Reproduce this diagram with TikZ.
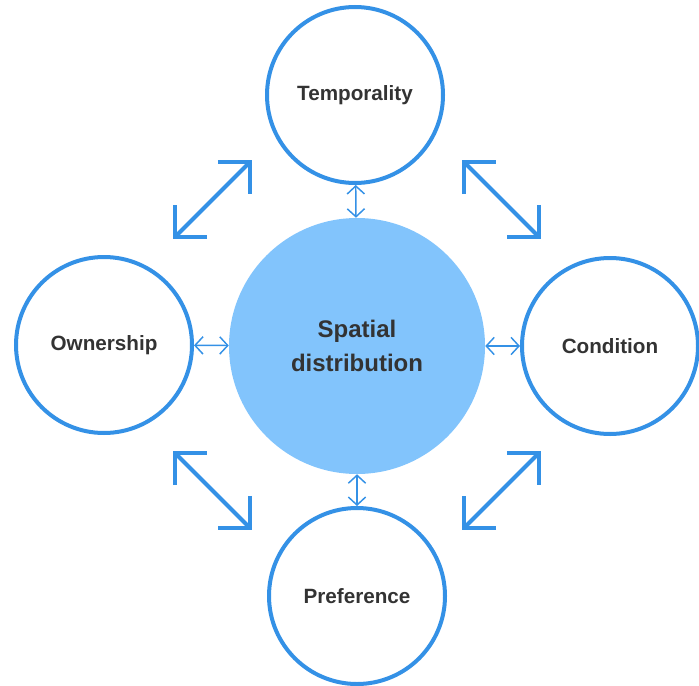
\documentclass[tikz,border=0pt]{standalone}
\usepackage{fontspec}
\setmainfont{Liberation Sans}
\usetikzlibrary{arrows.meta}

\definecolor{ringblue}{HTML}{3491E6}
\definecolor{coreblue}{HTML}{82C4FC}
\definecolor{labelgray}{HTML}{333333}

\begin{document}
\begin{tikzpicture}[x=0.75pt,y=-0.75pt,
    ring/.style={circle, draw=ringblue, line width=3pt, fill=white,
        minimum size=132pt, inner sep=0pt, font=\bfseries\fontsize{15.5}{18}\selectfont,
        text=labelgray},
    core/.style={circle, fill=coreblue, minimum size=192pt, inner sep=0pt,
        align=center, font=\bfseries\fontsize{18}{25}\selectfont, text=labelgray},
    link/.style={draw=ringblue, line width=1.1pt,
        {Straight Barb[length=6pt,width=13pt]}-{Straight Barb[length=6pt,width=13pt]}},
    bigarrow/.style={draw=ringblue, line width=3pt, line cap=round, line join=round,
        {Straight Barb[length=17pt,width=34pt]}-{Straight Barb[length=17pt,width=34pt]}}]
        \useasboundingbox (0,0) rectangle (699,685);

        % Centre node
        \node[core] (spatial) at (357,346) {Spatial\\distribution};

        % Outer nodes
        \node[ring] (temp) at (355,95) {Temporality};
        \node[ring] (own) at (104,345) {Ownership};
        \node[ring] (cond) at (610,346) {Condition};
        \node[ring] (pref) at (357,596) {Preference};

        % Short links to the centre
        \draw[link] (temp) -- (spatial);
        \draw[link] (own) -- (spatial);
        \draw[link] (spatial) -- (cond);
        \draw[link] (spatial) -- (pref);

        % Diagonal arrows
        \coordinate (tl1) at (173,239);
        \coordinate (tl2) at (252,160);
        \coordinate (tr1) at (462,160);
        \coordinate (tr2) at (541,239);
        \coordinate (bl1) at (173,451);
        \coordinate (bl2) at (252,530);
        \coordinate (br1) at (462,530);
        \coordinate (br2) at (541,451);
        \draw[bigarrow] (tl1) -- (tl2);
        \draw[bigarrow] (tr1) -- (tr2);
        \draw[bigarrow] (bl1) -- (bl2);
        \draw[bigarrow] (br1) -- (br2);
\end{tikzpicture}
\end{document}
